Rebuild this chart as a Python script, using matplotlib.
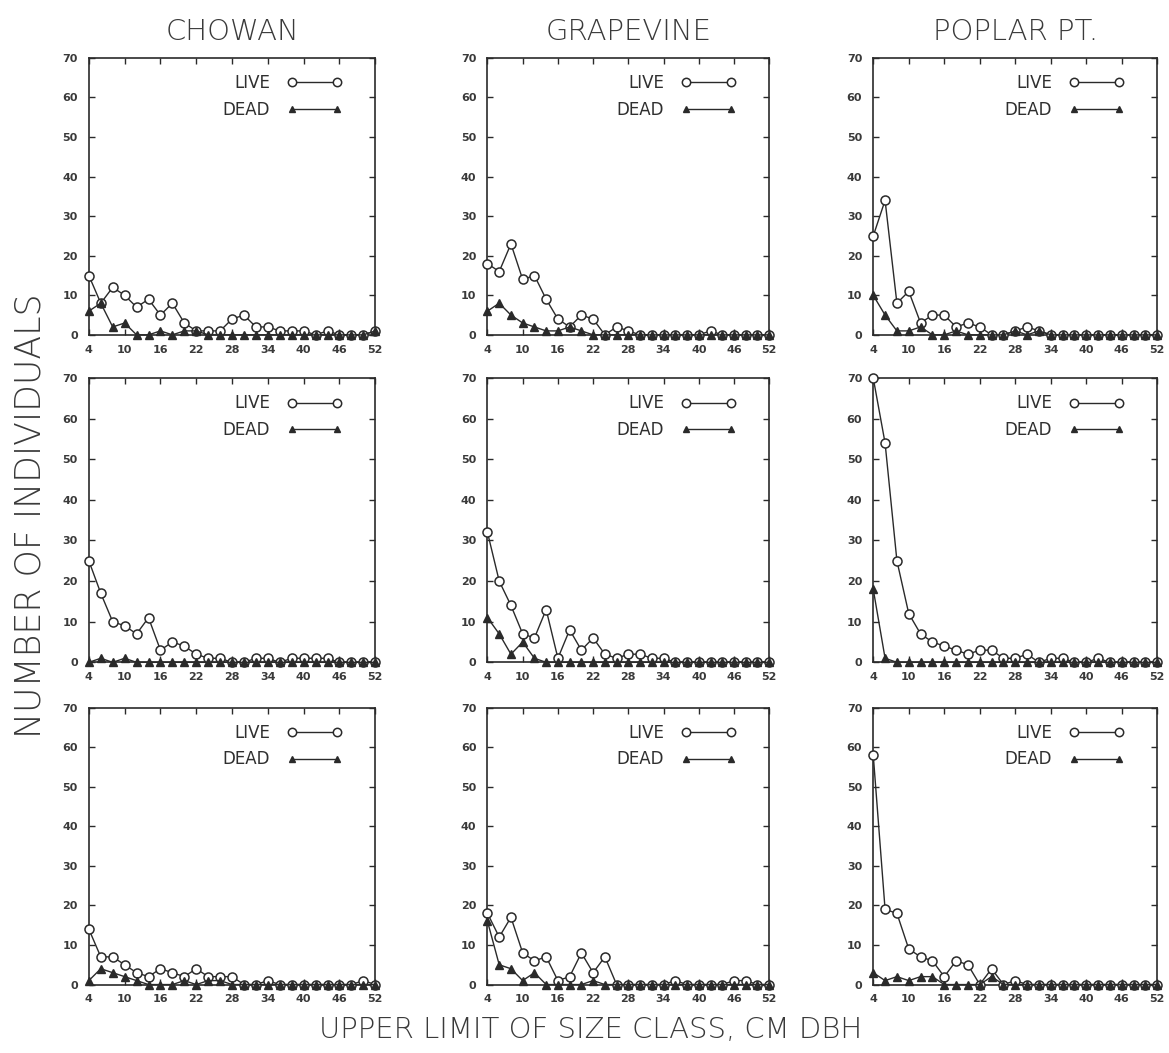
import matplotlib
matplotlib.use("Agg")
import matplotlib.pyplot as plt
from matplotlib.lines import Line2D

# size classes (upper limit, cm DBH)
size_class = [4, 6, 8, 10, 12, 14, 16, 18, 20, 22, 24, 26, 28,
              30, 32, 34, 36, 38, 40, 42, 44, 46, 48, 50, 52]

sites = ["CHOWAN", "GRAPEVINE", "POPLAR PT."]

# row 1
chowan_live_1 = [15, 8, 12, 10, 7, 9, 5, 8, 3, 1, 1, 1, 4, 5, 2, 2, 1, 1, 1, 0, 1, 0, 0, 0, 1]
chowan_dead_1 = [6, 8, 2, 3, 0, 0, 1, 0, 1, 1, 0, 0, 0, 0, 0, 0, 0, 0, 0, 0, 0, 0, 0, 0, 1]
grape_live_1 = [18, 16, 23, 14, 15, 9, 4, 2, 5, 4, 0, 2, 1, 0, 0, 0, 0, 0, 0, 1, 0, 0, 0, 0, 0]
grape_dead_1 = [6, 8, 5, 3, 2, 1, 1, 2, 1, 0, 0, 0, 0, 0, 0, 0, 0, 0, 0, 0, 0, 0, 0, 0, 0]
poplar_live_1 = [25, 34, 8, 11, 3, 5, 5, 2, 3, 2, 0, 0, 1, 2, 1, 0, 0, 0, 0, 0, 0, 0, 0, 0, 0]
poplar_dead_1 = [10, 5, 1, 1, 2, 0, 0, 1, 0, 0, 0, 0, 1, 0, 1, 0, 0, 0, 0, 0, 0, 0, 0, 0, 0]

# row 2
chowan_live_2 = [25, 17, 10, 9, 7, 11, 3, 5, 4, 2, 1, 1, 0, 0, 1, 1, 0, 1, 1, 1, 1, 0, 0, 0, 0]
chowan_dead_2 = [0, 1, 0, 1, 0, 0, 0, 0, 0, 0, 0, 0, 0, 0, 0, 0, 0, 0, 0, 0, 0, 0, 0, 0, 0]
grape_live_2 = [32, 20, 14, 7, 6, 13, 1, 8, 3, 6, 2, 1, 2, 2, 1, 1, 0, 0, 0, 0, 0, 0, 0, 0, 0]
grape_dead_2 = [11, 7, 2, 5, 1, 0, 0, 0, 0, 0, 0, 0, 0, 0, 0, 0, 0, 0, 0, 0, 0, 0, 0, 0, 0]
poplar_live_2 = [70, 54, 25, 12, 7, 5, 4, 3, 2, 3, 3, 1, 1, 2, 0, 1, 1, 0, 0, 1, 0, 0, 0, 0, 0]
poplar_dead_2 = [18, 1, 0, 0, 0, 0, 0, 0, 0, 0, 0, 0, 0, 0, 0, 0, 0, 0, 0, 0, 0, 0, 0, 0, 0]

# row 3
chowan_live_3 = [14, 7, 7, 5, 3, 2, 4, 3, 2, 4, 2, 2, 2, 0, 0, 1, 0, 0, 0, 0, 0, 0, 0, 1, 0]
chowan_dead_3 = [1, 4, 3, 2, 1, 0, 0, 0, 1, 0, 1, 1, 0, 0, 0, 0, 0, 0, 0, 0, 0, 0, 0, 0, 0]
grape_live_3 = [18, 12, 17, 8, 6, 7, 1, 2, 8, 3, 7, 0, 0, 0, 0, 0, 1, 0, 0, 0, 0, 1, 1, 0, 0]
grape_dead_3 = [16, 5, 4, 1, 3, 0, 0, 0, 0, 1, 0, 0, 0, 0, 0, 0, 0, 0, 0, 0, 0, 0, 0, 0, 0]
poplar_live_3 = [58, 19, 18, 9, 7, 6, 2, 6, 5, 0, 4, 0, 1, 0, 0, 0, 0, 0, 0, 0, 0, 0, 0, 0, 0]
poplar_dead_3 = [3, 1, 2, 1, 2, 2, 0, 0, 0, 0, 2, 0, 0, 0, 0, 0, 0, 0, 0, 0, 0, 0, 0, 0, 0]

panels = [
    [(chowan_live_1, chowan_dead_1), (grape_live_1, grape_dead_1), (poplar_live_1, poplar_dead_1)],
    [(chowan_live_2, chowan_dead_2), (grape_live_2, grape_dead_2), (poplar_live_2, poplar_dead_2)],
    [(chowan_live_3, chowan_dead_3), (grape_live_3, grape_dead_3), (poplar_live_3, poplar_dead_3)],
]

ink = "#2a2a2a"
txt = "#3a3a3a"

fig = plt.figure(figsize=(11.69, 10.53), dpi=100)

col_left = [0.076, 0.417, 0.747]
col_w = [0.245, 0.241, 0.243]
row_bottom = [0.682, 0.371, 0.065]
row_h = [0.263, 0.270, 0.263]

for r in range(3):
    for c in range(3):
        live, dead = panels[r][c]
        ax = fig.add_axes([col_left[c], row_bottom[r], col_w[c], row_h[r]])
        ax.plot(size_class, live, color=ink, lw=1.0, marker="o", ms=6.5,
                mfc="white", mec=ink, mew=1.1, clip_on=False, zorder=3)
        ax.plot(size_class, dead, color=ink, lw=1.0, marker="^", ms=5.5,
                mfc=ink, mec=ink, clip_on=False, zorder=4)
        ax.set_xlim(4, 52)
        ax.set_ylim(0, 70)
        ax.set_xticks([4, 10, 16, 22, 28, 34, 40, 46, 52])
        ax.set_yticks(range(0, 71, 10))
        ax.tick_params(direction="in", length=4, width=1.0, color=ink,
                       top=True, right=True, labelsize=8, labelcolor=txt)
        ax.tick_params(axis="x", pad=7)
        ax.tick_params(axis="y", pad=8)
        for lab in ax.get_xticklabels() + ax.get_yticklabels():
            lab.set_fontweight("bold")
        for sp in ax.spines.values():
            sp.set_color(ink)
            sp.set_linewidth(1.2)

        h_live = Line2D([], [], color=ink, lw=1.0, marker="o", ms=6,
                        mfc="white", mec=ink, mew=1.1)
        h_dead = Line2D([], [], color=ink, lw=1.0, marker="^", ms=5,
                        mfc=ink, mec=ink)
        ax.legend([h_live, h_dead], ["LIVE", "DEAD"], loc="upper right",
                  bbox_to_anchor=(0.935, 0.995), frameon=False, markerfirst=False,
                  numpoints=2, handlelength=3.3, handletextpad=1.0,
                  labelspacing=0.5, prop={"size": 12},
                  labelcolor="#2f2f2f")

        if r == 0:
            ax.set_title(sites[c], fontsize=21, color=txt, pad=13,
                         fontweight="light")

fig.text(0.026, 0.51, "NUMBER OF INDIVIDUALS", rotation=90, ha="center",
         va="center", fontsize=25, color=txt, fontweight="light")
fig.text(0.505, 0.022, "UPPER LIMIT OF SIZE CLASS, CM DBH", ha="center",
         va="center", fontsize=21, color=txt, fontweight="light")

fig.savefig("out.png", dpi=100)
